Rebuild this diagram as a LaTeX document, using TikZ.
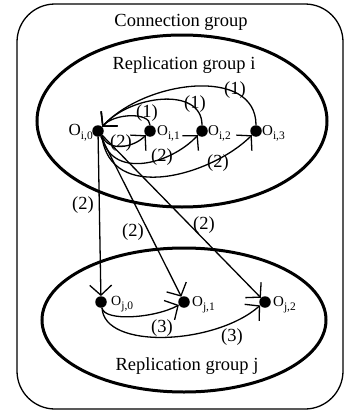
\documentclass[tikz,border=0pt]{standalone}
\usepackage{fontspec}
\setmainfont{Liberation Serif}
\usetikzlibrary{arrows.meta}
\newcommand{\osub}[1]{O\raisebox{-4pt}{\fontsize{11.5}{12}\selectfont #1}}
\begin{document}
\begin{tikzpicture}[x=1pt,y=-1pt,
  dot/.style={circle,fill,inner sep=0pt,minimum size=11.5pt},
  lbl/.style={font=\fontsize{18.5}{20}\selectfont, inner sep=0pt},
  olbl/.style={font=\fontsize{15}{17}\selectfont, inner sep=0pt},
  conn/.style={line width=1.3pt, -{Straight Barb[length=10pt,width=22pt]}},
  grp/.style={line width=3pt},
]
\useasboundingbox (0,0) rectangle (344,415);
% outer connection group
\draw[line width=1.3pt, rounded corners=38pt] (17,4) rectangle (343,409);
\node[lbl] (cg) at (181,22) {Connection group};
% replication groups
\draw[grp] (182,121) ellipse [x radius=145, y radius=86];
\draw[grp] (184,320) ellipse [x radius=142, y radius=72];
\node[lbl] (rgi) at (184,65) {Replication group i};
\node[lbl] (rgj) at (187,366) {Replication group j};
% objects
\node[dot] (i0) at (98,131) {};
\node[dot] (i1) at (150,131) {};
\node[dot] (i2) at (202,131) {};
\node[dot] (i3) at (256,131) {};
\node[dot] (j0) at (101,302) {};
\node[dot] (j1) at (184,302) {};
\node[dot] (j2) at (265,302) {};
\node[olbl, anchor=east, font=\fontsize{17}{18}\selectfont] (li0) at (93,133) {\osub{i,0}};
\node[olbl, anchor=west] (li1) at (157,133) {\osub{i,1}};
\node[olbl, anchor=west] (li2) at (208,133) {\osub{i,2}};
\node[olbl, anchor=west] (li3) at (262,133) {\osub{i,3}};
\node[olbl, anchor=west, font=\fontsize{14}{16}\selectfont] (lj0) at (111,304) {\osub{j,0}};
\node[olbl, anchor=west] (lj1) at (192,305) {\osub{j,1}};
\node[olbl, anchor=west] (lj2) at (273,305) {\osub{j,2}};
% (1) arcs
\draw[conn] (i1.north) .. controls (150,112) and (114,113) .. (i0.45);
\draw[conn] (i2.north) .. controls (202,86) and (130,95) .. (i0.45);
\draw[conn] (i3.north) .. controls (256,66) and (145,80) .. (i0.45);
\node[lbl] (a1) at (147,113) {(1)};
\node[lbl] (a2) at (195,104) {(1)};
\node[lbl] (a3) at (235,90) {(1)};
% (2) arcs inside group i
\draw[conn] (i0.-50) .. controls (108,152) and (133,148) .. (i1.-135);
\draw[conn] (i0.-50) .. controls (110,180) and (170,165) .. (i2.-135);
\draw[conn] (i0.-50) .. controls (110,205) and (212,175) .. (i3.-135);
\node[lbl] (b1) at (121,143) {(2)};
\node[lbl] (b2) at (162,157) {(2)};
\node[lbl] (b3) at (218,163) {(2)};
% (2) arrows to group j
\draw[conn] (i0) -- (j0);
\draw[conn] (i0) -- (j1);
\draw[conn] (i0) -- (j2);
\node[lbl] (c1) at (83,205) {(2)};
\node[lbl] (c2) at (133,232) {(2)};
\node[lbl] (c3) at (204,225) {(2)};
% (3) arcs inside group j
\draw[conn] (j0.-80) .. controls (104,322) and (155,318) .. (j1.-150);
\draw[conn] (j0.-80) .. controls (104,350) and (215,345) .. (j2.-145);
\node[lbl] (d1) at (162,328) {(3)};
\node[lbl] (d2) at (232,337) {(3)};
\end{tikzpicture}
\end{document}
